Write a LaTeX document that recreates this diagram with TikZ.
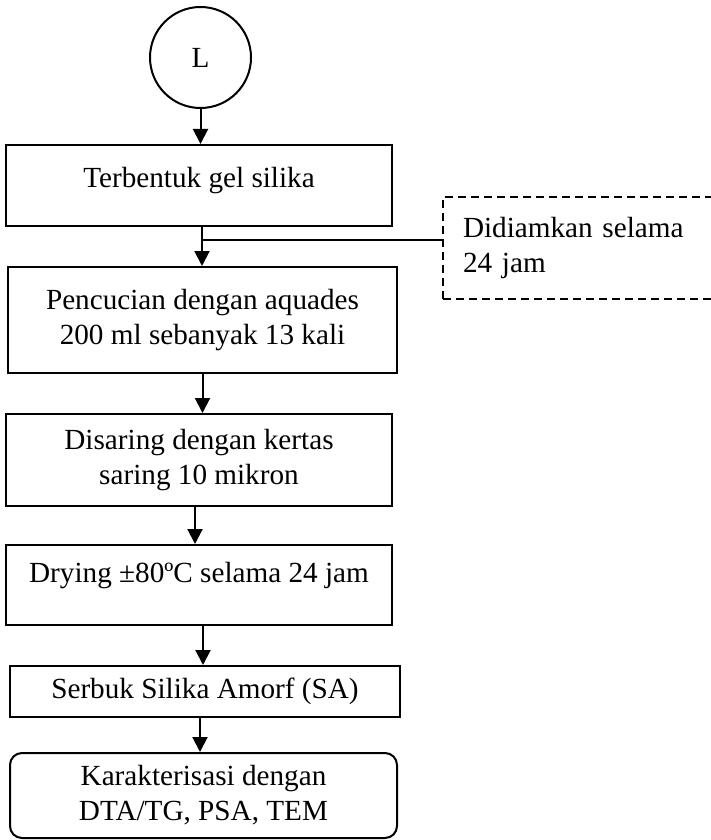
\documentclass[tikz,border=0pt]{standalone}
\usepackage{fontspec}
\setmainfont{Liberation Serif}
\usetikzlibrary{arrows.meta}
\newcommand{\flowfont}{\fontsize{14.6pt}{17.5pt}\selectfont}
\begin{document}
\begin{tikzpicture}[>={Triangle[width=7.5pt,length=7.5pt]}, x=0.5pt, y=-0.5pt,
  stepbox/.style={draw, line width=1pt, align=center, inner sep=0pt, font=\flowfont},
  notebox/.style={draw, line width=1pt, dashed, dash pattern=on 4pt off 2.5pt,
    align=left, inner xsep=10pt, inner ysep=0pt, text width=139pt,
    minimum height=51pt, font=\flowfont},
  arr/.style={->, line width=1pt}]
\useasboundingbox (0,0) rectangle (711,840);
\clip (0,0) rectangle (711,840);
% start
\node[stepbox, circle, minimum size=50.5pt] (L) at (200.5,57.5) {L};
% langkah
\node[stepbox, minimum width=193pt, minimum height=40.5pt, text depth=8pt] (gel) at (199,185.5) {Terbentuk gel silika};
\node[stepbox, minimum width=194.5pt, minimum height=53pt] (cuci) at (202.5,320) {Pencucian dengan aquades\\200 ml sebanyak 13 kali};
\node[stepbox, minimum width=193pt, minimum height=46pt] (saring) at (199,460) {Disaring dengan kertas\\saring 10 mikron};
\node[stepbox, minimum width=193pt, minimum height=40pt, text depth=12.5pt] (dry) at (199,585) {Drying ±80ºC selama 24 jam};
\node[stepbox, minimum width=195pt, minimum height=25.5pt] (sa) at (205,691.5) {Serbuk Silika Amorf (SA)};
\node[stepbox, rounded corners=6pt, minimum width=193.5pt, minimum height=42.5pt] (karak) at (203.5,795.5) {Karakterisasi dengan\\DTA/TG, PSA, TEM};
% keterangan
\node[notebox, anchor=west] (diam) at (442,248) {Didiamkan selama\\24 jam};
\coordinate (j) at (202,240);
% panah
\draw[arr] (L.south) -- (L.south |- gel.north);
\draw[arr] (j |- gel.south) -- (j |- cuci.north);
\draw[line width=1pt] (j) -- (diam.west |- j);
\draw[arr] (cuci.south) -- (cuci.south |- saring.north);
\draw[arr] ([xshift=-2pt]saring.south) -- ([xshift=-2pt]saring.south |- dry.north);
\draw[arr] ([xshift=2pt]dry.south) -- ([xshift=2pt]dry.south |- sa.north);
\draw[arr] ([xshift=-2.5pt]sa.south) -- ([xshift=-2.5pt]sa.south |- karak.north);
\end{tikzpicture}
\end{document}
